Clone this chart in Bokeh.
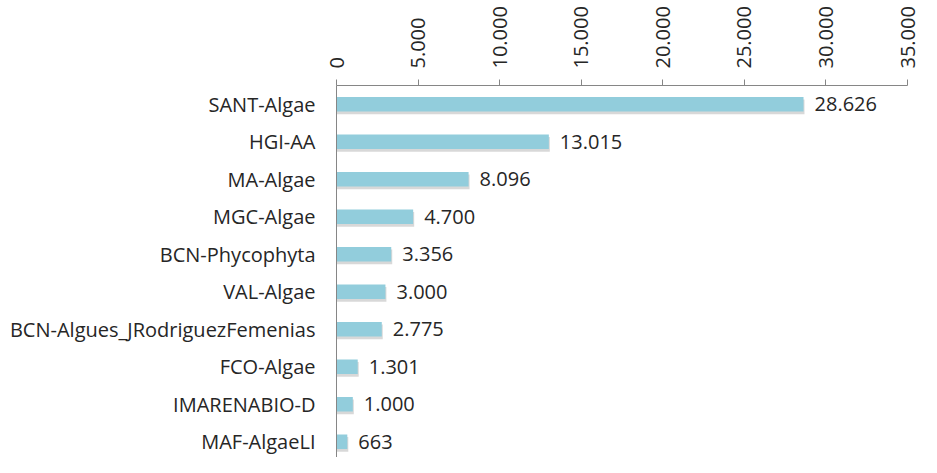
from bokeh.plotting import figure
from bokeh.models import Range1d, FixedTicker, ColumnDataSource
from bokeh.transform import dodge
from bokeh.core.properties import value
from bokeh.embed import file_html
from bokeh.resources import INLINE

categories = ["SANT-Algae", "HGI-AA", "MA-Algae", "MGC-Algae", "BCN-Phycophyta",
              "VAL-Algae", "BCN-Algues_JRodriguezFemenias", "FCO-Algae",
              "IMARENABIO-D", "MAF-AlgaeLI"]
values = [28626, 13015, 8096, 4700, 3356, 3000, 2775, 1301, 1000, 663]
x_ticks = [0, 5000, 10000, 15000, 20000, 25000, 30000, 35000]

def fmt(v):
    return f"{v:,}".replace(",", ".")

idx = list(range(len(categories)))
src = ColumnDataSource(dict(y=idx, v=values, lab=[fmt(v) for v in values]))

FONT = "Open Sans"
TXT = "#262626"

p = figure(width=921, height=457, output_backend="svg", toolbar_location=None,
           x_axis_location="above",
           x_range=Range1d(0, 35000), y_range=Range1d(9.42, -0.5),
           min_border_left=336, min_border_right=14, min_border_top=85,
           min_border_bottom=0)
p.outline_line_color = None
p.xgrid.visible = False
p.ygrid.visible = False
p.background_fill_color = "white"

# soft shadow under each bar
p.hbar(y=dodge("y", 0.07, range=p.y_range), left=0, right=dodge("v", 60, range=p.x_range),
       height=0.39, source=src, fill_color="#7f7f7f", fill_alpha=0.3, line_color=None)
p.hbar(y="y", left=0, right="v", height=0.39, source=src,
       fill_color="#92CDDC", line_color=None)

p.text(x="v", y="y", text="lab", source=src, x_offset=11, text_baseline="middle",
       text_align="left", text_font=value(FONT), text_font_size="20px", text_color=TXT)

xa = p.xaxis[0]
xa.ticker = FixedTicker(ticks=x_ticks)
xa.major_label_overrides = {t: fmt(t) for t in x_ticks}
xa.major_label_orientation = "vertical"
xa.major_label_text_font = FONT
xa.major_label_text_font_size = "20px"
xa.major_label_text_color = TXT
xa.major_label_standoff = 11
xa.axis_line_color = "#868686"
xa.major_tick_line_color = "#868686"
xa.major_tick_out = 6
xa.major_tick_in = 0
xa.minor_tick_line_color = None

ya = p.yaxis[0]
ya.ticker = FixedTicker(ticks=idx)
ya.major_label_overrides = {i: c for i, c in zip(idx, categories)}
ya.major_label_text_font = FONT
ya.major_label_text_font_size = "20px"
ya.major_label_text_color = TXT
ya.major_label_standoff = 15
ya.axis_line_color = "#868686"
ya.major_tick_line_color = None
ya.minor_tick_line_color = None

open("out.html", "w").write(file_html(p, INLINE))
